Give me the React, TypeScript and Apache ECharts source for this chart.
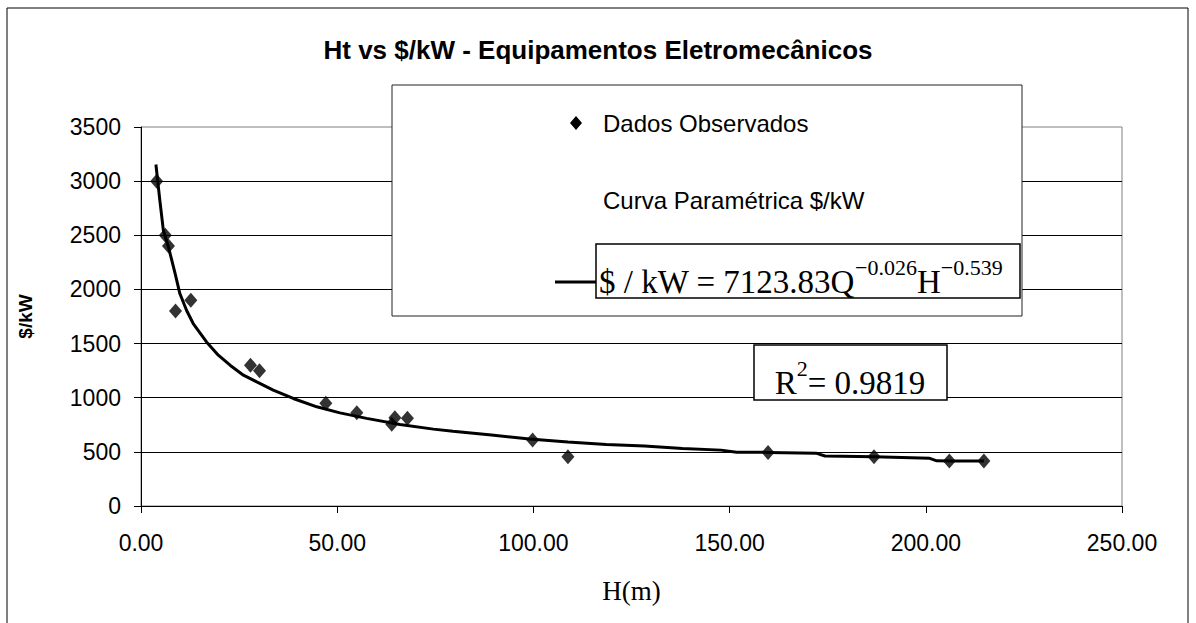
import React, { useEffect, useRef } from "react";
import * as echarts from "echarts";

// Observed data (H in m, cost in $/kW)
const obsH = [4.0, 6.2, 7.0, 8.8, 12.7, 27.9, 30.2, 47.1, 55.0, 63.9, 64.7, 67.9, 99.8, 108.8, 159.8, 186.8, 206.0, 214.8];
const obsV = [3000, 2500, 2400, 1800, 1900, 1300, 1250, 950, 860, 755, 815, 810, 610, 455, 495, 455, 415, 415];

// Parametric curve
const curveH = [3.8, 4.8, 5.7, 7.0, 8.7, 9.9, 11.6, 13.3, 16.7, 19.7, 22.7, 26.1, 29.5, 33.7, 38.8, 44.8, 50.7, 57.5, 66.0, 74.5, 79.5, 89.3, 99.0, 108.8, 118.6, 128.3, 138.0, 147.8, 151.8, 159.7, 172.2, 174.3, 186.8, 201.0, 202.8, 206.0, 214.8];
const curveV = [3154, 2822, 2545, 2391, 2146, 1962, 1808, 1685, 1515, 1393, 1300, 1208, 1146, 1070, 993, 916, 860, 809, 753, 710, 690, 655, 618, 590, 569, 553, 532, 516, 497, 495, 486, 462, 455, 440, 417, 415, 415];

const xMin = 0;
const xMax = 250;
const xStep = 50;
const yMin = 0;
const yMax = 3500;
const yStep = 500;

const titleText = "Ht vs $/kW - Equipamentos Eletromecânicos";
const yName = "$/kW";
const xName = "H(m)";
const legendObs = "Dados Observados";
const legendCurve = "Curva Paramétrica $/kW";
const r2Text = "0.9819";

export default function App() {
  const ref = useRef<HTMLDivElement>(null);
  useEffect(() => {
    document.body.style.margin = "0";
    const chart = echarts.init(ref.current!, null, { renderer: "svg" });
    const obs = obsH.map((h, i) => [h, obsV[i]]);
    const curve = curveH.map((h, i) => [h, curveV[i]]);
    const arial = "Arial, 'Liberation Sans', sans-serif";
    const times = "'Times New Roman', 'Liberation Serif', serif";
    chart.setOption({
      animation: false,
      backgroundColor: "#ffffff",
      grid: {
        left: 141,
        right: 74,
        top: 127,
        bottom: 117,
        show: true,
        borderColor: "#808080",
        borderWidth: 1,
        outerBoundsMode: "none",
      },
      xAxis: {
        type: "value",
        min: xMin,
        max: xMax,
        interval: xStep,
        name: xName,
        nameLocation: "middle",
        nameGap: 71,
        nameTextStyle: { fontFamily: times, fontSize: 27, color: "#000" },
        axisLine: { show: true, lineStyle: { color: "#000", width: 1 } },
        axisTick: { show: true, inside: false, length: 7, lineStyle: { color: "#000" } },
        axisLabel: {
          fontFamily: arial,
          fontSize: 23,
          color: "#000",
          margin: 25,
          formatter: (v: number) => v.toFixed(2),
        },
        splitLine: { show: false },
      },
      yAxis: {
        type: "value",
        min: yMin,
        max: yMax,
        interval: yStep,
        name: yName,
        nameLocation: "middle",
        nameGap: 106,
        nameRotate: 90,
        nameTextStyle: { fontFamily: arial, fontSize: 19, fontWeight: "bold", color: "#000" },
        axisLine: { show: true, lineStyle: { color: "#000", width: 1 } },
        axisTick: { show: true, inside: false, length: 7, lineStyle: { color: "#000" } },
        axisLabel: {
          fontFamily: arial,
          fontSize: 23,
          color: "#000",
          margin: 20,
          formatter: (v: number) => String(v),
        },
        splitLine: { show: true, showMaxLine: false, lineStyle: { color: "#000", width: 1 } },
      },
      series: [
        {
          name: legendCurve,
          type: "line",
          data: curve,
          symbol: "none",
          lineStyle: { color: "#000", width: 3 },
          z: 2,
        },
        {
          name: legendObs,
          type: "scatter",
          data: obs,
          symbol: "diamond",
          symbolSize: [13, 15],
          itemStyle: { color: "#000" },
          z: 3,
        },
      ],
      graphic: [
        {
          type: "rect",
          shape: { x: 7, y: 8, width: 1181, height: 640 },
          style: { fill: "none", stroke: "#000", lineWidth: 1 },
          silent: true,
          z: 0,
        },
        {
          type: "text",
          x: 598,
          y: 50,
          style: {
            text: titleText,
            font: `bold 26px ${arial}`,
            fill: "#000",
            align: "center",
            verticalAlign: "middle",
          },
        },
        // legend box
        {
          type: "rect",
          shape: { x: 392, y: 85, width: 630, height: 231 },
          style: { fill: "#fff", stroke: "#222", lineWidth: 1 },
          z: 10,
        },
        {
          type: "polygon",
          shape: { points: [[576, 116], [582, 123], [576, 130], [570, 123]] },
          style: { fill: "#000" },
          z: 11,
        },
        {
          type: "text",
          x: 603,
          y: 123,
          style: { text: legendObs, font: `24px ${arial}`, fill: "#000", verticalAlign: "middle" },
          z: 11,
        },
        {
          type: "text",
          x: 603,
          y: 200,
          style: { text: legendCurve, font: `24px ${arial}`, fill: "#000", verticalAlign: "middle" },
          z: 11,
        },
        {
          type: "line",
          shape: { x1: 555, y1: 282, x2: 597, y2: 282 },
          style: { stroke: "#000", lineWidth: 3 },
          z: 11,
        },
        // formula box
        {
          type: "rect",
          shape: { x: 596, y: 244, width: 424, height: 54 },
          style: { fill: "#fff", stroke: "#000", lineWidth: 1.5 },
          z: 12,
        },
        {
          type: "text",
          x: 599,
          y: 277,
          style: {
            text: "{m|$ / kW = 7123.83Q}{s|−0.026}{m|H}{s|−0.539}",
            verticalAlign: "middle",
            rich: {
              m: { fontFamily: times, fontSize: 33, fill: "#000", lineHeight: 42, verticalAlign: "bottom" },
              s: { fontFamily: times, fontSize: 22, fill: "#000", lineHeight: 28, verticalAlign: "top" },
            },
          },
          z: 13,
        },
        // R^2 box
        {
          type: "rect",
          shape: { x: 754, y: 345, width: 193, height: 55 },
          style: { fill: "#fff", stroke: "#000", lineWidth: 1.5 },
          z: 12,
        },
        {
          type: "text",
          x: 850,
          y: 378,
          style: {
            text: "{m|R}{s|2}{m|= " + r2Text + "}",
            align: "center",
            verticalAlign: "middle",
            rich: {
              m: { fontFamily: times, fontSize: 33, fill: "#000", lineHeight: 42, verticalAlign: "bottom" },
              s: { fontFamily: times, fontSize: 22, fill: "#000", lineHeight: 28, verticalAlign: "top" },
            },
          },
          z: 13,
        },
      ],
    });
    return () => chart.dispose();
  }, []);
  return <div ref={ref} style={{ width: 1196, height: 623 }} />;
}
